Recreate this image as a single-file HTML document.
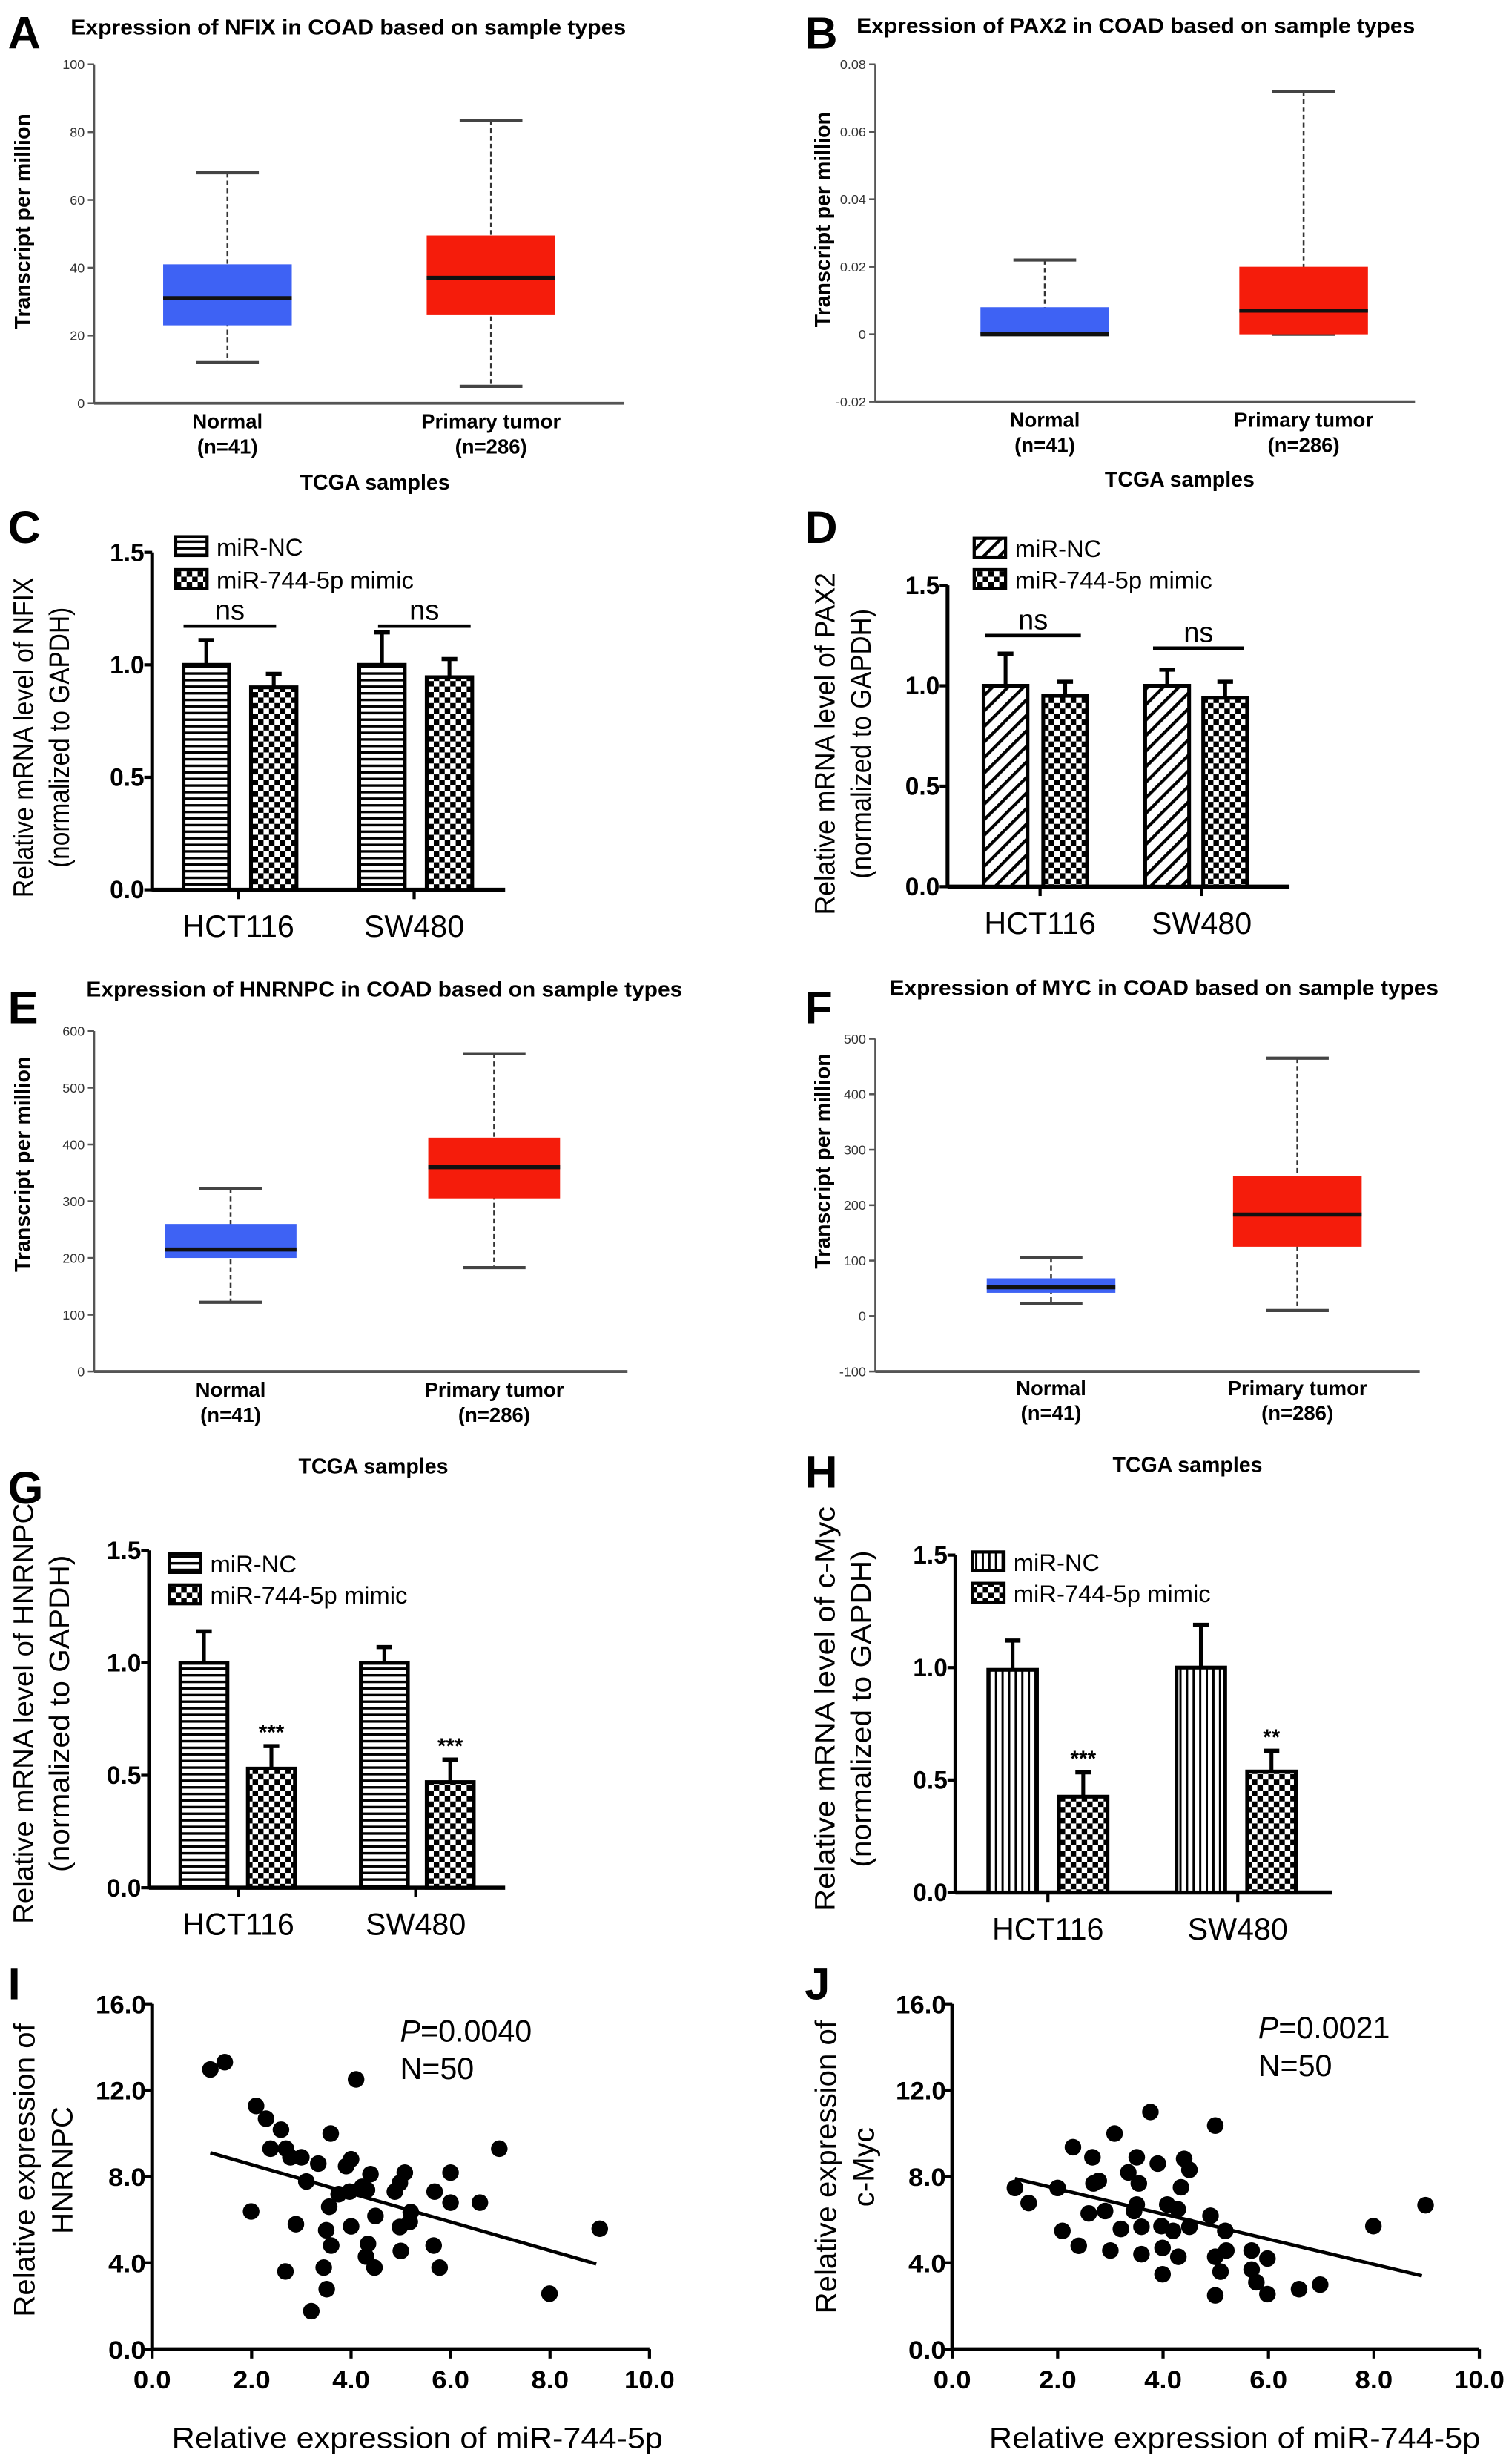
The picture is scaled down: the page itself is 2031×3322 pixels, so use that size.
<!DOCTYPE html>
<html><head><meta charset="utf-8"><style>
html,body{margin:0;padding:0;background:#fff}
svg{display:block}
text{font-family:"Liberation Sans",sans-serif}
</style></head><body>
<svg id="fig" width="2031" height="3322" viewBox="0 0 960 1570.2" preserveAspectRatio="none" xmlns="http://www.w3.org/2000/svg">
<defs>
<pattern id="pH" patternUnits="userSpaceOnUse" width="6" height="4.2"><rect width="6" height="4.2" fill="#fff"/><rect y="0" width="6" height="1.6" fill="#000"/></pattern>
<pattern id="pV" patternUnits="userSpaceOnUse" width="4.2" height="6"><rect width="4.2" height="6" fill="#fff"/><rect x="0" width="1.4" height="6" fill="#000"/></pattern>
<pattern id="pD" patternUnits="userSpaceOnUse" width="7" height="7" patternTransform="rotate(45)"><rect width="7" height="7" fill="#fff"/><rect width="2" height="7" fill="#000"/></pattern>
<pattern id="pC" patternUnits="userSpaceOnUse" width="7" height="7"><rect width="7" height="7" fill="#fff"/><rect width="3.5" height="3.5" fill="#000"/><rect x="3.5" y="3.5" width="3.5" height="3.5" fill="#000"/></pattern>
</defs>
</svg>
<script>
// ---------- Box plot data ----------
const boxCats = ["Normal","Primary tumor"];
const boxNs = ["(n=41)","(n=286)"];
const A_ticks=[0,20,40,60,80,100];
const A_min=[12,5], A_q1=[23,26], A_med=[31,37], A_q3=[41,49.5], A_max=[68,83.5];
const B_ticks=[-0.02,0,0.02,0.04,0.06,0.08];
const B_tickLabels=["-0.02","0","0.02","0.04","0.06","0.08"];
const B_min=[0,0], B_q1=[0,0], B_med=[0,0.007], B_q3=[0.008,0.02], B_max=[0.022,0.072];
const E_ticks=[0,100,200,300,400,500,600];
const E_min=[122,183], E_q1=[200,305], E_med=[215,360], E_q3=[260,412], E_max=[322,560];
const F_ticks=[-100,0,100,200,300,400,500];
const F_min=[22,10], F_q1=[42,125], F_med=[52,183], F_q3=[68,252], F_max=[105,465];
// ---------- Bar data ----------
const barGroups=["HCT116","SW480"];
const barTicks=[0,0.5,1.0,1.5];
const barTickLabels=["0.0","0.5","1.0","1.5"];
const C_vals=[1.0,0.90,1.0,0.945], C_err=[1.11,0.96,1.144,1.026];
const D_vals=[1.0,0.95,1.0,0.94], D_err=[1.16,1.02,1.08,1.02];
const G_vals=[1.0,0.53,1.0,0.47], G_err=[1.14,0.63,1.07,0.57];
const H_vals=[0.99,0.426,1.0,0.538], H_err=[1.12,0.534,1.19,0.63];
// ---------- Scatter data ----------
const sTicks=[0,4,8,12,16], sTickLabels=["0.0","4.0","8.0","12.0","16.0"];
const xTicks=[0,2,4,6,8,10], xTickLabels=["0.0","2.0","4.0","6.0","8.0","10.0"];
const I_x=[1.17,1.46,4.1,2.09,2.29,2.59,3.59,2.38,2.69,2.78,3.0,3.34,6.98,3.9,4.0,4.39,5.08,6.0,3.1,4.98,4.88,3.75,3.97,4.22,4.32,5.68,6.0,6.59,1.99,3.56,5.2,4.49,5.18,2.89,4.0,4.98,9.0,3.5,3.6,4.34,5.66,5.0,4.3,2.68,3.45,4.47,5.78,3.51,7.99,3.2];
const I_y=[12.96,13.3,12.5,11.27,10.68,10.17,9.99,9.29,9.29,8.89,8.89,8.6,9.29,8.48,8.8,8.11,8.18,8.18,7.77,7.7,7.3,7.18,7.3,7.52,7.38,7.3,6.79,6.79,6.38,6.6,6.35,6.17,5.9,5.79,5.69,5.66,5.58,5.51,4.8,4.88,4.8,4.55,4.29,3.6,3.78,3.78,3.78,2.78,2.57,1.76];
const I_fit=[[1.17,9.1],[8.93,3.95]];
const J_x=[1.19,1.45,2.0,2.09,2.29,2.4,2.59,2.66,2.68,2.78,2.9,3.0,3.08,3.2,3.34,3.45,3.5,3.5,3.54,3.59,3.59,3.76,3.9,3.97,3.99,3.99,4.08,4.19,4.28,4.29,4.34,4.4,4.5,4.5,4.9,4.99,4.99,4.99,5.09,5.18,5.2,5.68,5.68,5.77,5.98,5.98,6.58,6.98,7.99,8.98];
const J_y=[7.47,6.77,7.47,5.48,9.36,4.79,6.29,8.89,7.68,7.8,6.4,4.57,9.99,5.57,8.19,6.4,8.89,6.7,7.68,5.67,4.4,10.99,8.6,5.7,4.69,3.47,6.7,5.48,6.48,4.28,7.5,8.82,8.31,5.67,6.18,10.36,4.28,2.49,3.59,5.48,4.57,4.57,3.69,3.1,4.2,2.55,2.78,2.99,5.7,6.67];
const J_fit=[[1.19,7.9],[8.91,3.4]];

const NS="http://www.w3.org/2000/svg";
const svg=document.getElementById('fig');
function mk(tag,attrs,parent,txt){const e=document.createElementNS(NS,tag);for(const k in attrs)e.setAttribute(k,attrs[k]);if(txt!==undefined)e.textContent=txt;(parent||svg).appendChild(e);return e;}
function grp(name){const g=mk('g',{});


return g;}

const letters=[["A",5,31],["B",513,31],["C",5,346],["D",513,346],["E",5,652],["F",513,652],["G",5,958],["H",513,948],["I",5,1274],["J",513,1274]];
letters.forEach(l=>{const t=mk('text',{x:l[1],y:l[2],'font-size':29,'font-weight':'bold'},svg,l[0]);

});

function boxPanel(id,L,ticks,tlabels,mn,q1,md,q3,mx){
  const g=grp('boxplot-'+id);
  const ys=v=>L.y0+(v-L.vmin)/(L.vmax-L.vmin)*(L.y1-L.y0);
  const t=mk('text',{x:L.titleX,y:L.titleY,'font-size':13.5,'font-weight':'bold',textLength:L.titleW,lengthAdjust:'spacingAndGlyphs'},g,L.title);
  
  
  mk('line',{x1:L.ax,y1:ys(L.vmax),x2:L.ax,y2:L.y0,stroke:'#555','stroke-width':1.3},g);
  mk('line',{x1:L.ax,y1:L.y0,x2:L.xEnd,y2:L.y0,stroke:'#555','stroke-width':1.8},g);
  ticks.forEach((v,i)=>{mk('line',{x1:L.ax-4,y1:ys(v),x2:L.ax,y2:ys(v),stroke:'#555','stroke-width':1.2},g);
    const tl=mk('text',{x:L.ax-6,y:ys(v)+3,'font-size':8.5,'text-anchor':'end',fill:'#333'},g,tlabels[i]);
    
    });
  const yt=mk('text',{x:0,y:0,'font-size':13.5,'font-weight':'bold','text-anchor':'middle',transform:`translate(${L.ytX},${L.ytY}) rotate(-90)`},g,'Transcript per million');
  
  
  const cols=['#3E62F4','#F51C0B'];
  L.cx.forEach((c,i)=>{
    const b=grp('box-'+boxCats[i].toLowerCase().replace(' ','-'));g.appendChild(b);
    mk('line',{x1:c,y1:ys(mx[i]),x2:c,y2:ys(mn[i]),stroke:'#333','stroke-width':1.2,'stroke-dasharray':'3,2'},b);
    mk('line',{x1:c-20,y1:ys(mx[i]),x2:c+20,y2:ys(mx[i]),stroke:'#444','stroke-width':2},b);
    mk('line',{x1:c-20,y1:ys(mn[i]),x2:c+20,y2:ys(mn[i]),stroke:'#444','stroke-width':2},b);
    mk('rect',{x:c-L.bw/2,y:ys(q3[i]),width:L.bw,height:Math.max(ys(q1[i])-ys(q3[i]),1),fill:cols[i]},b);
    mk('line',{x1:c-L.bw/2,y1:ys(md[i]),x2:c+L.bw/2,y2:ys(md[i]),stroke:'#111','stroke-width':2.6},b);
    const l1=mk('text',{x:c,y:L.labY,'font-size':13,'font-weight':'bold','text-anchor':'middle'},g,boxCats[i]);
    
    
    const l2=mk('text',{x:c,y:L.labY+16,'font-size':13,'font-weight':'bold','text-anchor':'middle'},g,boxNs[i]);
    
    
  });
  const xt=mk('text',{x:L.tcX,y:L.tcY,'font-size':13.5,'font-weight':'bold','text-anchor':'middle'},g,'TCGA samples');
  
  
}
boxPanel('a',{ax:60,y0:257,y1:41,vmin:0,vmax:100,xEnd:398,cx:[145,313],bw:82,title:'Expression of NFIX in COAD based on sample types',titleX:45,titleY:22,titleW:354,ytX:19,ytY:141,labY:273,tcX:239,tcY:312},A_ticks,A_ticks.map(String),A_min,A_q1,A_med,A_q3,A_max);
boxPanel('b',{ax:558,y0:256,y1:41,vmin:-0.02,vmax:0.08,xEnd:902,cx:[666,831],bw:82,title:'Expression of PAX2 in COAD based on sample types',titleX:546,titleY:21,titleW:356,ytX:529,ytY:140,labY:272,tcX:752,tcY:310},B_ticks,B_tickLabels,B_min,B_q1,B_med,B_q3,B_max);
boxPanel('e',{ax:60,y0:874,y1:657,vmin:0,vmax:600,xEnd:400,cx:[147,315],bw:84,title:'Expression of HNRNPC in COAD based on sample types',titleX:55,titleY:635,titleW:380,ytX:19,ytY:742,labY:890,tcX:238,tcY:939},E_ticks,E_ticks.map(String),E_min,E_q1,E_med,E_q3,E_max);
boxPanel('f',{ax:558,y0:874,y1:662,vmin:-100,vmax:500,xEnd:905,cx:[670,827],bw:82,title:'Expression of MYC in COAD based on sample types',titleX:567,titleY:634,titleW:350,ytX:529,ytY:740,labY:889,tcX:757,tcY:938},F_ticks,F_ticks.map(String),F_min,F_q1,F_med,F_q3,F_max);

function barPanel(id,L,vals,errs){
  const g=grp('bar-chart-'+id);
  const ys=v=>L.y0-(v/1.5)*(L.y0-L.y15);
  mk('line',{x1:L.ax,y1:L.y15,x2:L.ax,y2:L.y0+1,stroke:'#000','stroke-width':2.4},g);
  mk('line',{x1:L.ax,y1:L.y0,x2:L.xEnd,y2:L.y0,stroke:'#000','stroke-width':2.6},g);
  barTicks.forEach((v,i)=>{mk('line',{x1:L.ax-5,y1:ys(v),x2:L.ax,y2:ys(v),stroke:'#000','stroke-width':2},g);
    const t=mk('text',{x:L.ax-5,y:ys(v)+5.5,'font-size':16,'font-weight':'bold','text-anchor':'end',textLength:22,lengthAdjust:'spacingAndGlyphs'},g,barTickLabels[i]);
    
    });
  L.gx.forEach((x,i)=>{mk('line',{x1:x,y1:L.y0,x2:x,y2:L.y0+6,stroke:'#000','stroke-width':2},g);
    const t=mk('text',{x:x,y:L.y0+30,'font-size':19.5,'text-anchor':'middle'},g,barGroups[i]);
    
    });
  vals.forEach((v,i)=>{
    const x=L.bl[i], w=L.bw, cx=x+w/2;
    const b=grp('bar-'+barGroups[i>>1].toLowerCase()+(i%2?'-mimic':'-nc'));g.appendChild(b);
    mk('line',{x1:cx,y1:ys(v),x2:cx,y2:ys(errs[i]),stroke:'#000','stroke-width':2.4},b);
    mk('line',{x1:cx-5,y1:ys(errs[i]),x2:cx+5,y2:ys(errs[i]),stroke:'#000','stroke-width':2.6},b);
    mk('rect',{x:x,y:ys(v),width:w,height:L.y0-ys(v),fill:i%2?'url(#pC)':L.pat,stroke:'#000','stroke-width':2.4},b);
    if(L.stars&&L.stars[i]){const s=mk('text',{x:cx,y:ys(errs[i])-4,'font-size':14,'font-weight':'bold','text-anchor':'middle'},g,L.stars[i]);
      
      }
  });
  if(L.ns)L.ns.forEach(n=>{mk('line',{x1:n[0],y1:n[2],x2:n[1],y2:n[2],stroke:'#000','stroke-width':2.2},g);
    const t=mk('text',{x:(n[0]+n[1])/2,y:n[2]-4,'font-size':18,'text-anchor':'middle'},g,'ns');
    
    });
  [['miR-NC',L.pat],['miR-744-5p mimic','url(#pC)']].forEach((e,i)=>{
    const lg=grp('legend-entry-'+(i?'mimic':'nc'));g.appendChild(lg);
    mk('rect',{x:L.lx,y:L.ly+i*L.lsp,width:20,height:12,fill:e[1],stroke:'#000','stroke-width':2},lg);
    mk('text',{x:L.lx+26,y:L.ly+i*L.lsp+12,'font-size':15.5},lg,e[0]);
  });
  const yt=mk('text',{x:0,y:0,'font-size':18,'text-anchor':'middle',transform:`translate(${L.ytX},${L.ytY}) rotate(-90)`},g);
  
  
  mk('tspan',{x:0,dy:0,textLength:L.l1,lengthAdjust:'spacingAndGlyphs'},yt,L.yt1);
  mk('tspan',{x:0,dy:23,textLength:L.l2,lengthAdjust:'spacingAndGlyphs'},yt,'(normalized to GAPDH)');
}
barPanel('c',{ax:97,y15:352,y0:567,xEnd:322,bl:[117,160,229,272],bw:29,gx:[152,264],pat:'url(#pH)',lx:112,ly:342,lsp:21,ns:[[117,176,399],[241,300,399]],ytX:21,ytY:470,yt1:'Relative mRNA level of NFIX',l1:204,l2:166},C_vals,C_err);
barPanel('d',{ax:604,y15:373,y0:565,xEnd:822,bl:[627,665,730,767],bw:28,gx:[663,766],pat:'url(#pD)',lx:621,ly:343,lsp:20,ns:[[628,689,405],[735,793,413]],ytX:532,ytY:474,yt1:'Relative mRNA level of PAX2',l1:218,l2:172},D_vals,D_err);
barPanel('g',{ax:95,y15:988,y0:1203,xEnd:322,bl:[115,158,230,272],bw:30,gx:[152,265],pat:'url(#pH)',lx:108,ly:990,lsp:20,stars:[null,'***',null,'***'],ytX:21,ytY:1092,yt1:'Relative mRNA level of  HNRNPC',l1:268,l2:202},G_vals,G_err);
barPanel('h',{ax:609,y15:991,y0:1206,xEnd:849,bl:[630,675,750,795],bw:31,gx:[668,789],pat:'url(#pV)',lx:620,ly:989,lsp:20,stars:[null,'***',null,'**'],ytX:532,ytY:1089,yt1:'Relative mRNA level of c-Myc',l1:258,l2:202},H_vals,H_err);

function scatterPanel(id,L,xs,ys_,fit){
  const g=grp('scatter-'+id);
  const sx=v=>L.ax+v/10*(L.x10-L.ax), sy=v=>L.y0-v/16*(L.y0-L.y16);
  mk('line',{x1:L.ax,y1:L.y16,x2:L.ax,y2:L.y0+1,stroke:'#000','stroke-width':2.4},g);
  mk('line',{x1:L.ax,y1:L.y0,x2:L.x10,y2:L.y0,stroke:'#000','stroke-width':2.4},g);
  sTicks.forEach((v,i)=>{mk('line',{x1:L.ax-5,y1:sy(v),x2:L.ax,y2:sy(v),stroke:'#000','stroke-width':2},g);
    const t=mk('text',{x:L.ax-4,y:sy(v)+6,'font-size':16,'font-weight':'bold','text-anchor':'end',textLength:sTickLabels[i].length*8,lengthAdjust:'spacingAndGlyphs'},g,sTickLabels[i]);
    
    });
  xTicks.forEach((v,i)=>{mk('line',{x1:sx(v),y1:L.y0,x2:sx(v),y2:L.y0+6,stroke:'#000','stroke-width':2},g);
    const t=mk('text',{x:sx(v),y:L.y0+25,'font-size':16,'font-weight':'bold','text-anchor':'middle',textLength:xTickLabels[i].length*8,lengthAdjust:'spacingAndGlyphs'},g,xTickLabels[i]);
    
    });
  xs.forEach((x,i)=>{const c=mk('circle',{cx:sx(x),cy:sy(ys_[i]),r:5.3,fill:'#000'},g);
    
    });
  const fl=mk('line',{x1:sx(fit[0][0]),y1:sy(fit[0][1]),x2:sx(fit[1][0]),y2:sy(fit[1][1]),stroke:'#000','stroke-width':2.2},g);
  
  
  const p=mk('text',{x:L.px,y:L.py,'font-size':19.5},g);
  
  
  mk('tspan',{'font-style':'italic'},p,'P');mk('tspan',{},p,'='+L.pval);
  const n=mk('text',{x:L.px,y:L.py+24,'font-size':19.5},g,'N=50');
  
  
  const yt=mk('text',{x:0,y:0,'font-size':19,'text-anchor':'middle',transform:`translate(${L.ytX},${L.ytY}) rotate(-90)`},g);
  
  
  mk('tspan',{x:0,dy:0},yt,'Relative expression of');
  mk('tspan',{x:0,dy:24},yt,L.gene);
  const xt=mk('text',{x:L.xtX,y:1560,'font-size':19,'text-anchor':'middle',textLength:313,lengthAdjust:'spacingAndGlyphs'},g,'Relative expression of miR-744-5p');
  
  
}
scatterPanel('i',{ax:97,x10:414,y0:1497,y16:1277,px:255,py:1301,pval:'0.0040',ytX:22,ytY:1383,gene:'HNRNPC',xtX:266},I_x,I_y,I_fit);
scatterPanel('j',{ax:607,x10:943,y0:1497,y16:1277,px:802,py:1299,pval:'0.0021',ytX:533,ytY:1381,gene:'c-Myc',xtX:787},J_x,J_y,J_fit);
</script>
</body></html>
